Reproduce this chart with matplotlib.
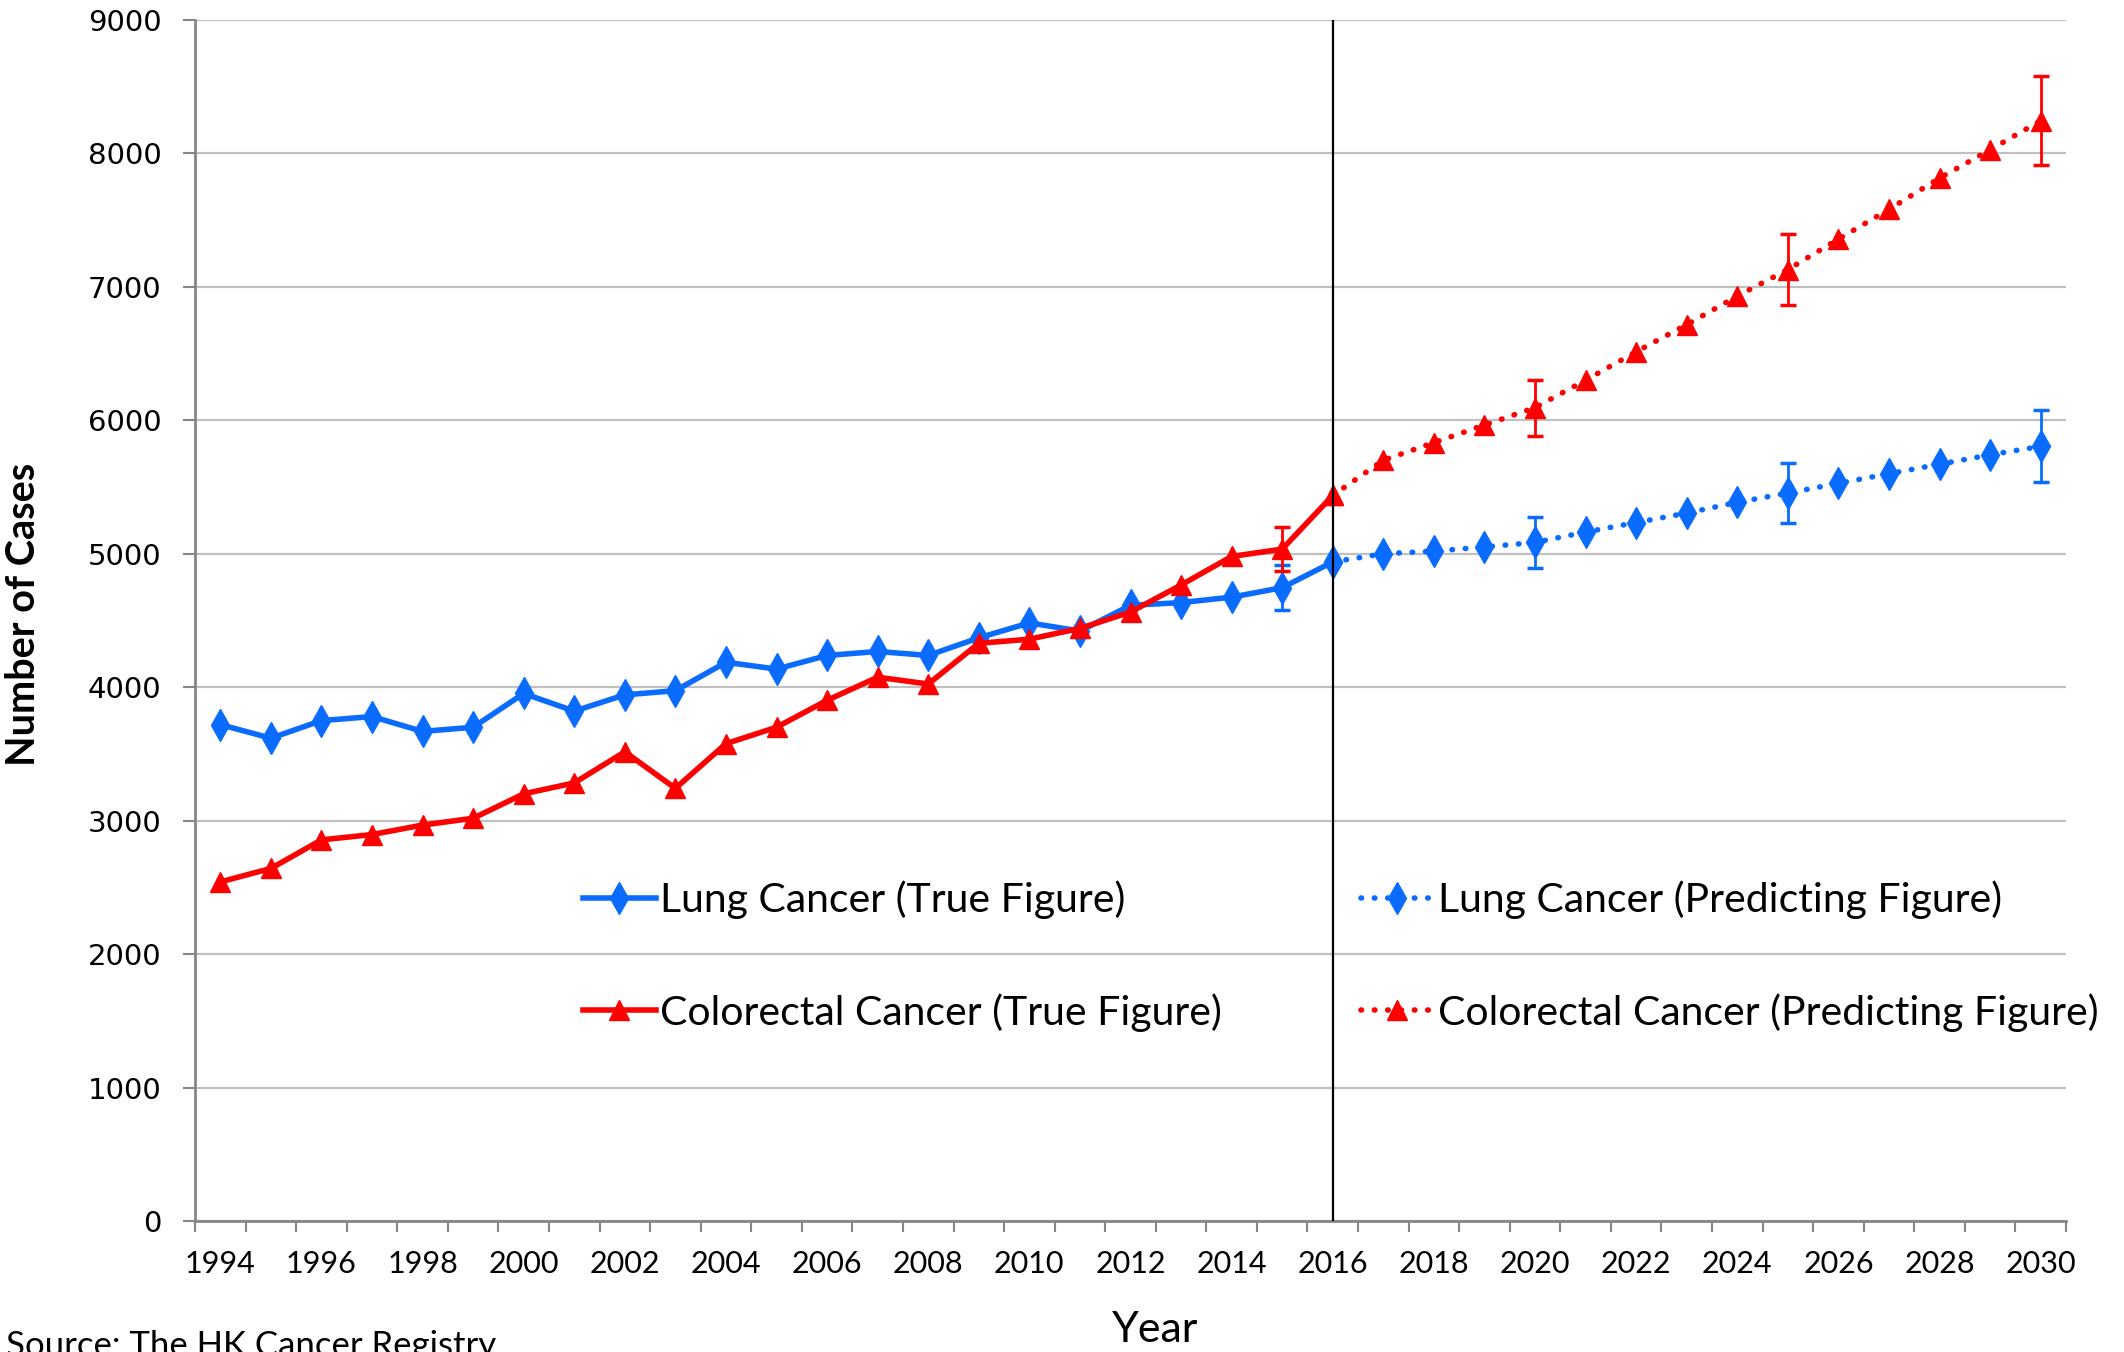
import numpy as np
import matplotlib
matplotlib.use('Agg')
from matplotlib import pyplot as plt

# categories
years = list(range(1994, 2031))
true_years = list(range(1994, 2017))
pred_years = list(range(2016, 2031))

# values
lung_true = [3720, 3618, 3750, 3780, 3669, 3700, 3953, 3821, 3943, 3974, 4187, 4136,
             4238, 4268, 4238, 4370, 4482, 4421, 4614, 4634, 4675, 4746, 4939]
colo_true = [2541, 2642, 2856, 2896, 2967, 3018, 3201, 3283, 3516, 3242, 3577, 3700,
             3902, 4075, 4024, 4329, 4360, 4441, 4563, 4766, 4980, 5035, 5437]
lung_pred = [4939, 5000, 5020, 5051, 5085, 5163, 5234, 5305, 5386, 5455, 5528, 5600,
             5671, 5742, 5805]
colo_pred = [5437, 5701, 5833, 5965, 6095, 6301, 6514, 6717, 6931, 7130, 7358, 7581,
             7815, 8028, 8245]

# error bars
err_years = [2015, 2020, 2025, 2030]
lung_err_val = [4746, 5085, 5455, 5805]
lung_err = [167, 190, 225, 270]
colo_err_val = [5035, 6095, 7130, 8245]
colo_err = [165, 210, 263, 333]

y_ticks = list(range(0, 9001, 1000))
split_year = 2016

BLUE = '#0a6cff'
RED = '#ff0000'
FONT = ['Lato', 'DejaVu Sans']

W, H = 2124, 1352
fig = plt.figure(figsize=(W / 100, H / 100), dpi=100)
ax = fig.add_axes([195 / W, 131 / H, 1871 / W, 1201 / H])


def pos(ys):
    return [years.index(y) for y in ys]


# lines
l1, = ax.plot(pos(true_years), lung_true, color=BLUE, lw=4, marker='d', ms=16,
              solid_joinstyle='round', zorder=3)
l2, = ax.plot(pos(true_years), colo_true, color=RED, lw=4, marker='^', ms=15,
              solid_joinstyle='round', zorder=4)
l3, = ax.plot(pos(pred_years), lung_pred, color=BLUE, lw=4, marker='d', ms=16,
              linestyle=(0, (0.1, 2.3)), dash_capstyle='round', zorder=3)
l4, = ax.plot(pos(pred_years), colo_pred, color=RED, lw=4, marker='^', ms=15,
              linestyle=(0, (0.1, 2.3)), dash_capstyle='round', zorder=4)

ax.errorbar(pos(err_years), lung_err_val, yerr=lung_err, fmt='none', ecolor=BLUE,
            elinewidth=2, capsize=6, capthick=2.5, zorder=5)
ax.errorbar(pos(err_years), colo_err_val, yerr=colo_err, fmt='none', ecolor=RED,
            elinewidth=2, capsize=6, capthick=2.5, zorder=5)

# split line
ax.axvline(years.index(split_year), color='black', lw=1.6, zorder=6)

# axes styling
ax.set_xlim(-0.5, len(years) - 0.5)
ax.set_ylim(0, 9000)
ax.set_yticks(y_ticks)
ax.set_yticklabels([str(v) for v in y_ticks], fontsize=21, family='DejaVu Sans')
ax.tick_params(axis='y', length=9, width=1.5, color='#868686', pad=15)
ax.grid(axis='y', color='#c0c0c0', lw=1.6)
ax.set_axisbelow(True)

lab_pos = list(range(0, len(years), 2))
ax.set_xticks(lab_pos)
ax.set_xticklabels([str(years[i]) for i in lab_pos], fontsize=22, family=FONT)
ax.tick_params(axis='x', length=0, pad=21)
ax.set_xticks(np.arange(-0.5, len(years), 1), minor=True)
ax.tick_params(axis='x', which='minor', length=8, width=1.5, color='#868686')

for s in ['top', 'right']:
    ax.spines[s].set_visible(False)
for s in ['left', 'bottom']:
    ax.spines[s].set_color('#868686')
    ax.spines[s].set_linewidth(2)

ax.set_ylabel('Number of Cases', fontsize=28.5, fontweight='bold', family=FONT)
ax.yaxis.set_label_coords((42 - 195) / 1871, (1221 - 614) / 1201)

fig.text(1155 / W, 1 - 1330 / H, 'Year', fontsize=31, family=FONT,
         ha='center', va='center')
fig.text(6 / W, 1 - 1346 / H, 'Source: The HK Cancer Registry', fontsize=25,
         family=FONT, ha='left', va='center')

# legends
leg_kw = dict(loc='center left', bbox_transform=fig.transFigure, frameon=False,
              handlelength=1.78, handletextpad=0.1, labelspacing=1.8,
              borderpad=0, borderaxespad=0, prop={'family': FONT, 'size': 29.5})
leg1 = ax.legend([l1, l2], ['Lung Cancer (True Figure)', 'Colorectal Cancer (True Figure)'],
                 bbox_to_anchor=(583 / W, 1 - 956 / H), **leg_kw)
ax.add_artist(leg1)
ax.legend([l3, l4], ['Lung Cancer (Predicting Figure)', 'Colorectal Cancer (Predicting Figure)'],
          bbox_to_anchor=(1361 / W, 1 - 956 / H), **leg_kw)

fig.savefig('out.png', dpi=100)
